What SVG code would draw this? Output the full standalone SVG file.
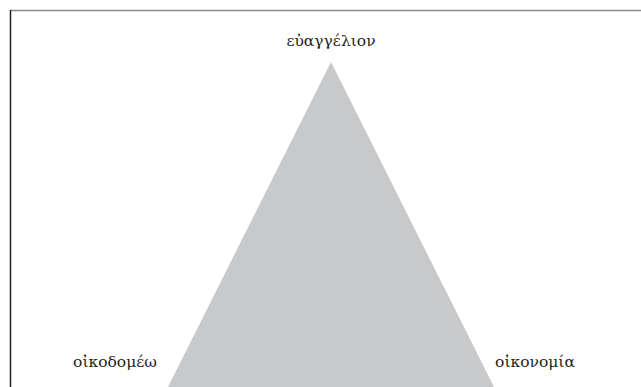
<svg xmlns="http://www.w3.org/2000/svg" width="641" height="387" viewBox="0 0 641 387">
<style>
.lbl{font-family:"DejaVu Serif","Liberation Serif",serif;font-size:15.5px;fill:#231f20}
</style>
<rect width="641" height="387" fill="#ffffff"/>
<line x1="10" y1="10.5" x2="641" y2="10.5" stroke="#8a8a8a" stroke-width="1.5"/>
<line x1="10.5" y1="10" x2="10.5" y2="387" stroke="#231f20" stroke-width="1.5"/>
<g id="triangle">
<polygon points="331,62 168,387 494,387" fill="#c8c9cb"/>
</g>
<g id="connectors"></g>
<g id="node-top"><text class="lbl" x="331" y="46" text-anchor="middle">εὐαγγέλιον</text></g>
<g id="node-left"><text class="lbl" x="115" y="367" text-anchor="middle">οἰκοδομέω</text></g>
<g id="node-right"><text class="lbl" x="535" y="367" text-anchor="middle">οἰκονομία</text></g>
</svg>
